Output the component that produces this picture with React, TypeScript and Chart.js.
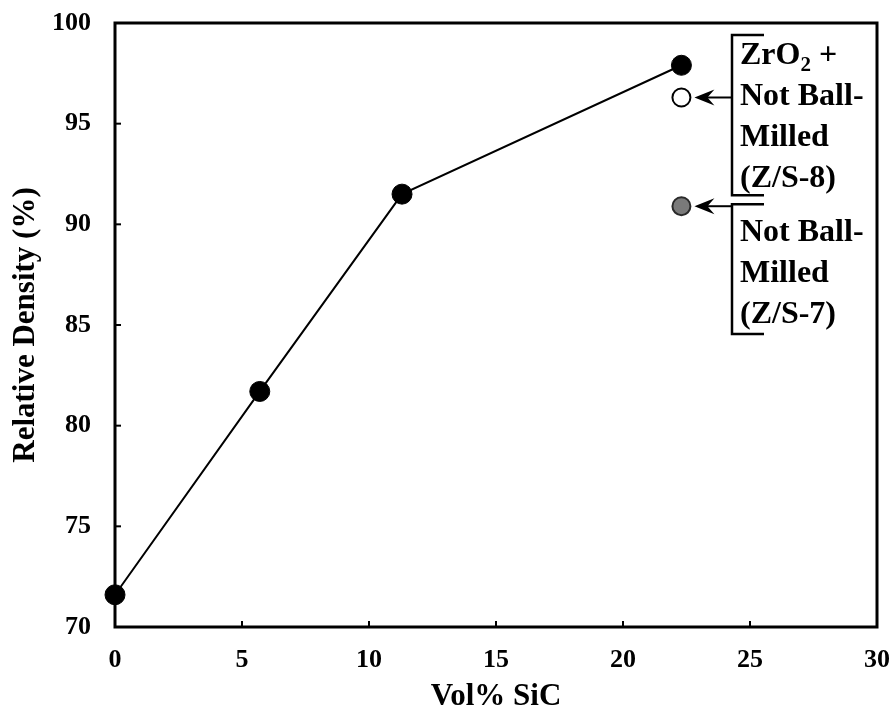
import React, { useEffect, useRef } from "react";
import { Chart, registerables } from "chart.js";

Chart.register(...registerables);

// ---- data ----
const volSiC = [0, 5.7, 11.3, 22.3];
const relDensity = [71.6, 81.7, 91.5, 97.9];
const zs8X = [22.3];
const zs8Y = [96.3];
const zs7X = [22.3];
const zs7Y = [90.9];
const xTicks = [0, 5, 10, 15, 20, 25, 30];
const yTicks = [70, 75, 80, 85, 90, 95, 100];
const xTitle = "Vol% SiC";
const yTitle = "Relative Density (%)";
const upperHead = ["ZrO", "2", " +"];
const upperLines = ["Not Ball-", "Milled", "(Z/S-8)"];
const lowerLines = ["Not Ball-", "Milled", "(Z/S-7)"];

const SERIF = '"Liberation Serif", "Times New Roman", Times, serif';

function drawArrow(ctx: CanvasRenderingContext2D, fromX: number, toX: number, y: number) {
  ctx.save();
  ctx.strokeStyle = "#000";
  ctx.fillStyle = "#000";
  ctx.lineWidth = 2;
  ctx.beginPath();
  ctx.moveTo(fromX, y);
  ctx.lineTo(toX + 10, y);
  ctx.stroke();
  ctx.beginPath();
  ctx.moveTo(toX, y);
  ctx.lineTo(toX + 20, y - 8);
  ctx.lineTo(toX + 13, y);
  ctx.lineTo(toX + 20, y + 8);
  ctx.closePath();
  ctx.fill();
  ctx.restore();
}

const framePlugin = {
  id: "frame",
  beforeDatasetsDraw(chart: any) {
    const { ctx, chartArea: a, scales } = chart;
    ctx.save();
    ctx.strokeStyle = "#000";
    ctx.lineWidth = 2;
    const tl = 6;
    xTicks.forEach((v) => {
      if (v === xTicks[0] || v === xTicks[xTicks.length - 1]) return;
      const px = scales.x.getPixelForValue(v);
      ctx.beginPath();
      ctx.moveTo(px, a.bottom);
      ctx.lineTo(px, a.bottom - tl);
      ctx.stroke();
    });
    yTicks.forEach((v) => {
      if (v === yTicks[0] || v === yTicks[yTicks.length - 1]) return;
      const py = scales.y.getPixelForValue(v);
      ctx.beginPath();
      ctx.moveTo(a.left, py);
      ctx.lineTo(a.left + tl, py);
      ctx.stroke();
    });
    ctx.lineWidth = 3;
    ctx.strokeRect(a.left, a.top, a.right - a.left, a.bottom - a.top);
    ctx.restore();
  },
  afterDatasetsDraw(chart: any) {
    const { ctx, scales } = chart;
    const xs = scales.x;
    const ys = scales.y;
    const bx = Math.round(xs.getPixelForValue(24.3));
    const bxr = Math.round(xs.getPixelForValue(25.55));
    const tipX = xs.getPixelForValue(zs8X[0]) + 13;

    ctx.save();
    ctx.strokeStyle = "#000";
    ctx.lineWidth = 2.5;

    // upper bracket
    const uTop = ys.getPixelForValue(99.4);
    const uBot = ys.getPixelForValue(91.45);
    ctx.beginPath();
    ctx.moveTo(bxr, uTop);
    ctx.lineTo(bx, uTop);
    ctx.lineTo(bx, uBot);
    ctx.lineTo(bxr, uBot);
    ctx.stroke();

    // lower bracket
    const ay7 = ys.getPixelForValue(zs7Y[0]);
    const lTop = ay7 - 2;
    const lBot = ys.getPixelForValue(84.55);
    ctx.beginPath();
    ctx.moveTo(bxr, lTop);
    ctx.lineTo(bx, lTop);
    ctx.lineTo(bx, lBot);
    ctx.lineTo(bxr, lBot);
    ctx.stroke();
    ctx.restore();

    drawArrow(ctx, bx, tipX, ys.getPixelForValue(zs8Y[0]));
    drawArrow(ctx, bx, tipX, ay7);

    // texts
    ctx.save();
    ctx.fillStyle = "#000";
    ctx.textAlign = "left";
    ctx.textBaseline = "alphabetic";
    const tx = bx + 8;
    const big = `bold 32px ${SERIF}`;
    const small = `bold 21px ${SERIF}`;
    const y0 = uTop + 29;
    ctx.font = big;
    ctx.fillText(upperHead[0], tx, y0);
    let w = ctx.measureText(upperHead[0]).width;
    ctx.font = small;
    ctx.fillText(upperHead[1], tx + w, y0 + 7);
    w += ctx.measureText(upperHead[1]).width;
    ctx.font = big;
    ctx.fillText(upperHead[2], tx + w, y0);
    upperLines.forEach((s, i) => ctx.fillText(s, tx, y0 + 41 * (i + 1)));
    const y1 = lTop + 37;
    lowerLines.forEach((s, i) => ctx.fillText(s, tx, y1 + 41 * i));
    ctx.restore();
  },
};

export default function App() {
  const ref = useRef<HTMLCanvasElement>(null);
  useEffect(() => {
    if (!ref.current) return;
    const tickFont = { family: SERIF, size: 26, weight: "bold" as const };
    const titleFont = { family: SERIF, size: 31, weight: "bold" as const, lineHeight: 1.2 };
    const chart = new Chart(ref.current, {
      type: "scatter",
      data: {
        datasets: [
          {
            label: "main",
            data: volSiC.map((x, i) => ({ x, y: relDensity[i] })),
            showLine: true,
            borderColor: "#000",
            borderWidth: 2,
            backgroundColor: "#000",
            pointBackgroundColor: "#000",
            pointBorderColor: "#000",
            pointRadius: 10,
            pointBorderWidth: 1,
            clip: false,
          },
          {
            label: "Z/S-8",
            data: zs8X.map((x, i) => ({ x, y: zs8Y[i] })),
            pointBackgroundColor: "#fff",
            pointBorderColor: "#000",
            pointBorderWidth: 2,
            pointRadius: 9,
            clip: false,
          },
          {
            label: "Z/S-7",
            data: zs7X.map((x, i) => ({ x, y: zs7Y[i] })),
            pointBackgroundColor: "#7a7a7a",
            pointBorderColor: "#2a2a2a",
            pointBorderWidth: 2,
            pointRadius: 9,
            clip: false,
          },
        ],
      },
      options: {
        responsive: false,
        animation: false,
        devicePixelRatio: 1,
        layout: { padding: { top: 23, right: 13, left: 0, bottom: 0 } },
        plugins: { legend: { display: false }, tooltip: { enabled: false } },
        scales: {
          x: {
            type: "linear",
            min: 0,
            max: 30,
            afterBuildTicks: (s: any) => {
              s.ticks = xTicks.map((v) => ({ value: v }));
            },
            afterFit: (s: any) => {
              s.height = 93;
              s.paddingLeft = 0;
              s.paddingRight = 0;
            },
            grid: { display: false, drawTicks: false },
            border: { display: false },
            ticks: { color: "#000", font: tickFont, padding: 18, maxRotation: 0 },
            title: { display: true, text: xTitle, color: "#000", font: titleFont, padding: { top: 0, bottom: 4 } },
          },
          y: {
            type: "linear",
            min: 70,
            max: 100,
            afterBuildTicks: (s: any) => {
              s.ticks = yTicks.map((v) => ({ value: v }));
            },
            afterFit: (s: any) => {
              s.width = 115;
              s.paddingTop = 0;
              s.paddingBottom = 0;
            },
            grid: { display: false, drawTicks: false },
            border: { display: false },
            ticks: { color: "#000", font: tickFont, padding: 24 },
            title: { display: true, text: yTitle, color: "#000", font: titleFont, padding: { top: 7, bottom: 0 } },
          },
        },
      },
      plugins: [framePlugin],
    } as any);
    return () => chart.destroy();
  }, []);
  return (
    <div style={{ position: "fixed", left: 0, top: 0, width: 890, height: 720, background: "#fff" }}>
      <canvas ref={ref} width={890} height={720} style={{ width: 890, height: 720, display: "block" }} />
    </div>
  );
}
